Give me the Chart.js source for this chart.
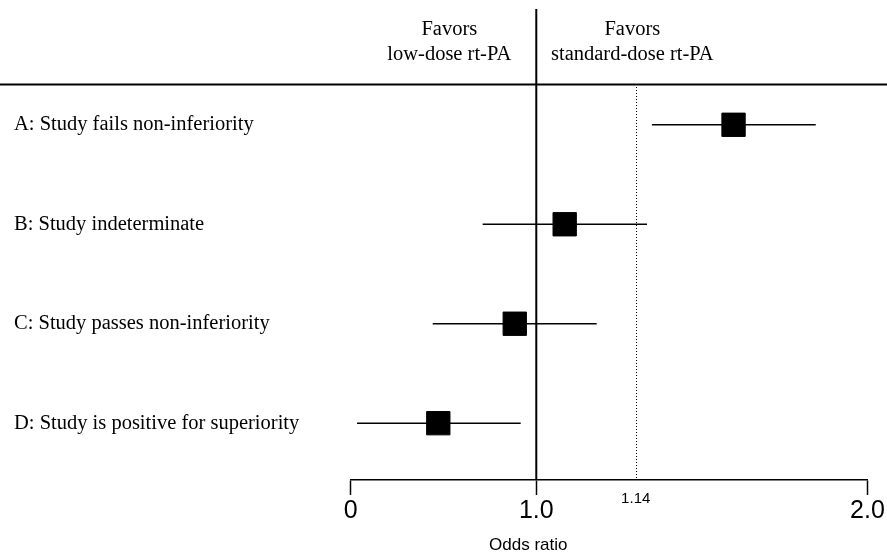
<!DOCTYPE html>
<html>
<head>
<meta charset="utf-8">
<script src="https://cdn.jsdelivr.net/npm/chart.js@4.4.1/dist/chart.umd.min.js"></script>
<style>
  html, body { margin: 0; padding: 0; background: #ffffff; }
  #wrap { width: 887px; height: 554px; }
</style>
</head>
<body>
<div id="wrap"><canvas id="c" width="887" height="554"></canvas></div>
<script>
// ---- data ----
const categories = [
  'A: Study fails non-inferiority',
  'B: Study indeterminate',
  'C: Study passes non-inferiority',
  'D: Study is positive for superiority'
];
const estimates = [1.503, 1.040, 0.884, 0.472];
const lowerCI   = [1.200, 0.711, 0.442, 0.034];
const upperCI   = [1.808, 1.182, 1.085, 0.916];
const xTickValues = [0, 1, 2];
const xTickLabels = ['0', '1.0', '2.0'];
const nullValue = 1.0;
const marginValue = 1.14;
const marginLabel = '1.14';
const headerLeft = ['Favors', 'low-dose rt-PA'];
const headerRight = ['Favors', 'standard-dose rt-PA'];
const axisTitle = 'Odds ratio';

// ---- schematic (piecewise) odds-ratio scale ----
const breakValues = [0, 1, 1.14, 2];
const breakFractions = [0, 0.3591, 0.5515, 1];
function toDecimal(v) {
  for (let i = 0; i < breakValues.length - 1; i++) {
    if (v <= breakValues[i + 1] || i === breakValues.length - 2) {
      const t = (v - breakValues[i]) / (breakValues[i + 1] - breakValues[i]);
      return breakFractions[i] + t * (breakFractions[i + 1] - breakFractions[i]);
    }
  }
  return 0;
}
function fromDecimal(d) {
  for (let i = 0; i < breakFractions.length - 1; i++) {
    if (d <= breakFractions[i + 1] || i === breakFractions.length - 2) {
      const t = (d - breakFractions[i]) / (breakFractions[i + 1] - breakFractions[i]);
      return breakValues[i] + t * (breakValues[i + 1] - breakValues[i]);
    }
  }
  return 0;
}
class PiecewiseScale extends Chart.LinearScale {
  getPixelForValue(value) { return this.getPixelForDecimal(toDecimal(value)); }
  getValueForPixel(pixel) { return fromDecimal(this.getDecimalForPixel(pixel)); }
}
PiecewiseScale.id = 'piecewise';
PiecewiseScale.defaults = Chart.LinearScale.defaults;
Chart.register(PiecewiseScale);

const SANS = '"Liberation Sans", Arial, sans-serif';
const SERIF = '"Liberation Serif", "Times New Roman", serif';

// ---- datasets ----
const datasets = [{
  label: 'Estimate',
  data: estimates.map((v, i) => ({ x: v, y: i })),
  pointStyle: 'rect',
  pointRadius: 16.5,
  pointHoverRadius: 16.5,
  backgroundColor: '#000',
  borderColor: '#000',
  borderWidth: 1,
  showLine: false,
  order: 0
}];
categories.forEach((c, i) => {
  datasets.push({
    label: c,
    data: [{ x: lowerCI[i], y: i }, { x: upperCI[i], y: i }],
    showLine: true,
    borderColor: '#000',
    borderWidth: 1.6,
    pointRadius: 0,
    order: 1
  });
});

const decorPlugin = {
  id: 'decor',
  beforeDatasetsDraw(chart) {
    const { ctx, chartArea, scales } = chart;
    const x = scales.x;
    const ctxW = chart.width;
    ctx.save();
    // horizontal header rule
    ctx.strokeStyle = '#000';
    ctx.lineWidth = 2;
    ctx.beginPath();
    ctx.moveTo(0, 84.5);
    ctx.lineTo(ctxW, 84.5);
    ctx.stroke();
    // null line
    const px1 = x.getPixelForValue(nullValue);
    ctx.lineWidth = 2;
    ctx.beginPath();
    ctx.moveTo(px1, chartArea.top);
    ctx.lineTo(px1, chartArea.bottom);
    ctx.stroke();
    // margin line (dotted)
    const pxm = Math.round(x.getPixelForValue(marginValue)) + 0.5;
    ctx.lineWidth = 1;
    ctx.setLineDash([1, 2]);
    ctx.beginPath();
    ctx.moveTo(pxm, 87);
    ctx.lineTo(pxm, chartArea.bottom);
    ctx.stroke();
    ctx.setLineDash([]);
    // header texts
    ctx.fillStyle = '#000';
    ctx.font = '20.5px ' + SERIF;
    ctx.textAlign = 'center';
    ctx.textBaseline = 'middle';
    ctx.fillText(headerLeft[0], px1 - 87, 29.5);
    ctx.fillText(headerLeft[1], px1 - 87, 54.5);
    ctx.fillText(headerRight[0], px1 + 96, 29.5);
    ctx.fillText(headerRight[1], px1 + 96, 54.5);
    ctx.restore();
  },
  afterDraw(chart) {
    const { ctx, scales } = chart;
    const x = scales.x;
    ctx.save();
    ctx.fillStyle = '#000';
    ctx.textAlign = 'center';
    ctx.textBaseline = 'middle';
    ctx.font = '15px ' + SANS;
    ctx.fillText(marginLabel, x.getPixelForValue(marginValue), 499);
    ctx.font = '17px ' + SANS;
    ctx.fillText(axisTitle, x.getPixelForValue(nullValue) - 8, 545);
    ctx.restore();
  }
};

new Chart(document.getElementById('c'), {
  type: 'scatter',
  data: { datasets },
  plugins: [decorPlugin],
  options: {
    responsive: false,
    animation: false,
    devicePixelRatio: 1,
    layout: { autoPadding: false, padding: { left: 14, right: 19.5, top: 9, bottom: 0 } },
    plugins: { legend: { display: false }, tooltip: { enabled: false } },
    events: [],
    scales: {
      x: {
        type: 'piecewise',
        position: 'bottom',
        min: 0,
        max: 2,
        afterBuildTicks: (s) => { s.ticks = xTickValues.map(v => ({ value: v })); },
        afterFit: (s) => { s.height = 74; s.paddingLeft = 0; s.paddingRight = 0; },
        ticks: {
          autoSkip: false,
          maxRotation: 0,
          padding: 1,
          color: '#000',
          font: { family: SANS, size: 25 },
          callback: (v) => { const i = xTickValues.indexOf(v); return i >= 0 ? xTickLabels[i] : ''; }
        },
        grid: {
          display: true,
          drawOnChartArea: false,
          drawTicks: true,
          tickLength: 15,
          tickColor: '#000',
          tickWidth: 1.5
        },
        border: { display: true, color: '#000', width: 1.5 },
        title: { display: false }
      },
      y: {
        type: 'linear',
        position: 'left',
        reverse: true,
        min: -1.164,
        max: 3.571,
        afterBuildTicks: (s) => { s.ticks = categories.map((c, i) => ({ value: i })); },
        afterFit: (s) => { s.width = 336.7; s.paddingTop = 0; s.paddingBottom = 0; },
        ticks: {
          autoSkip: false,
          crossAlign: 'far',
          color: '#000',
          font: { family: SERIF, size: 20.5 },
          callback: (v) => categories[v]
        },
        grid: { display: false },
        border: { display: false }
      }
    }
  }
});
</script>
</body>
</html>
